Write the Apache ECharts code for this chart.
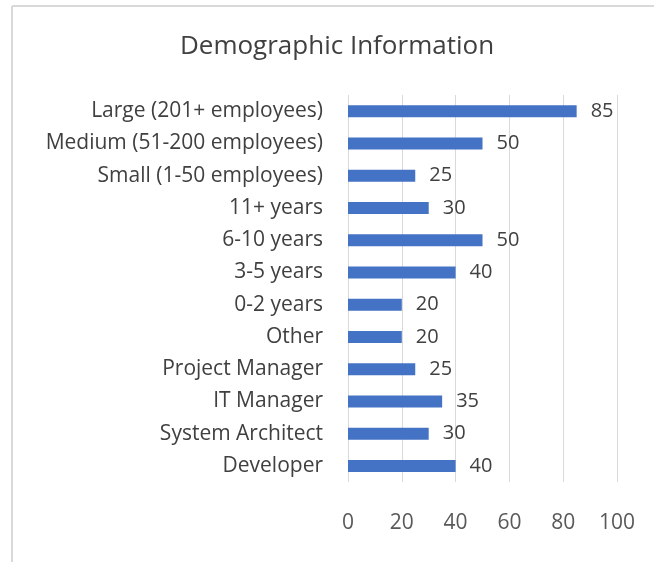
<!DOCTYPE html>
<html><head><meta charset="utf-8">
<script src="https://cdn.jsdelivr.net/npm/echarts@6/dist/echarts.min.js"></script>
<style>html,body{margin:0;padding:0;background:#fff}#c{width:654px;height:562px}</style>
</head><body><div id="c"></div>
<script>
const categories = ["Developer","System Architect","IT Manager","Project Manager","Other","0-2 years","3-5 years","6-10 years","11+ years","Small (1-50 employees)","Medium (51-200 employees)","Large (201+ employees)"];
const values = [40,30,35,25,20,20,40,50,30,25,50,85];
const xTicks = [0,20,40,60,80,100];
const titleText = "Demographic Information";

const chart = echarts.init(document.getElementById('c'), null, {renderer:'canvas'});
const font = "'Open Sans', 'Noto Sans', sans-serif";
chart.setOption({
  animation:false,
  backgroundColor:'#fff',
  title:{text:titleText,left:332,textAlign:'center',top:29,textStyle:{fontFamily:font,fontSize:26,fontWeight:'normal',color:'#404040'}},
  graphic:[
    {type:'line',shape:{x1:12,y1:6,x2:654,y2:6},style:{stroke:'#d9d9d9',lineWidth:2}},
    {type:'line',shape:{x1:12,y1:6,x2:12,y2:562},style:{stroke:'#d9d9d9',lineWidth:2}}
  ],
  grid:{left:348,right:37,top:95,bottom:80,containLabel:false},
  xAxis:{type:'value',min:xTicks[0],max:xTicks[xTicks.length-1],interval:20,
    axisLine:{show:false},axisTick:{show:false},
    splitLine:{show:true,lineStyle:{color:'#d9d9d9',width:1}},
    axisLabel:{margin:31,fontFamily:font,fontSize:21,color:'#595959'}},
  yAxis:{type:'category',data:categories,
    axisLine:{show:false},axisTick:{show:false},
    axisLabel:{margin:25,fontFamily:font,fontSize:21,color:'#404040'}},
  series:[{type:'bar',data:values,barWidth:12,itemStyle:{color:'#4472C4'},
    label:{show:true,position:'right',distance:14,fontFamily:font,fontSize:20,color:'#404040'}}]
});
</script></body></html>
